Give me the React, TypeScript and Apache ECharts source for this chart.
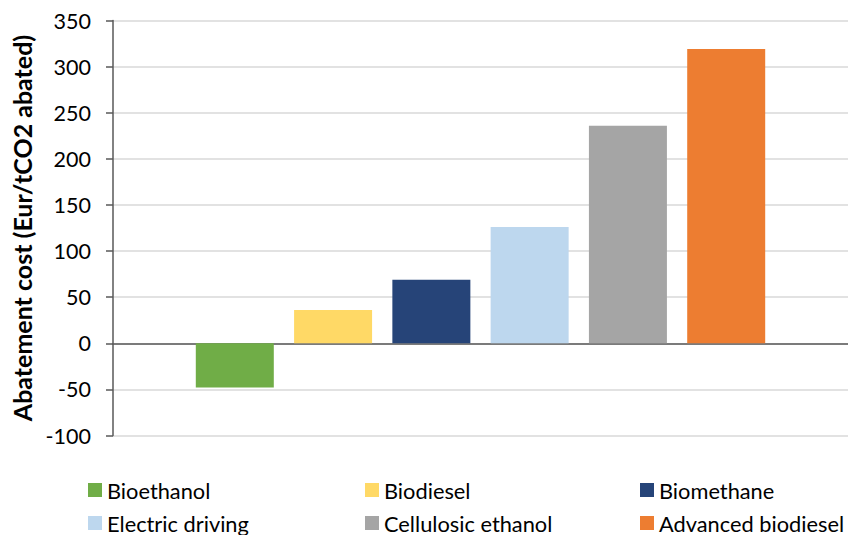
import React, { useEffect, useRef } from "react";
import * as echarts from "echarts";

// Abatement cost per technology, Eur per tonne of CO2 abated
const technologies = [
  "Bioethanol",
  "Biodiesel",
  "Biomethane",
  "Electric driving",
  "Cellulosic ethanol",
  "Advanced biodiesel",
];
const abatementCost = [-48, 36, 69, 126, 236, 319];
const barColors = ["#70ad47", "#ffd966", "#264478", "#bdd7ee", "#a5a5a5", "#ed7d31"];
const yTicks = { min: -100, max: 350, step: 50 };

// legend grid: three columns, two rows
const legendCols = [88, 365, 640];
const legendRows = [479, 512];

const FONT = "Lato, 'Open Sans', sans-serif";

export default function App() {
  const ref = useRef<HTMLDivElement>(null);

  useEffect(() => {
    if (!ref.current) return;
    const chart = echarts.init(ref.current, undefined, { renderer: "svg" });

    const series = technologies.map((name, i) => ({
      name,
      type: "bar" as const,
      data: [abatementCost[i]],
      barWidth: 78,
      barGap: "26%",
      itemStyle: { color: barColors[i] },
    }));

    const legends = technologies.map((name, i) => ({
      data: [name],
      left: legendCols[i % 3],
      top: legendRows[Math.floor(i / 3)],
      icon: "rect",
      itemWidth: 14,
      itemHeight: 14,
      itemGap: 0,
      padding: 0,
      itemStyle: { borderWidth: 0 },
      textStyle: { fontFamily: FONT, fontSize: 21.8, color: "#000" },
      selectedMode: false,
    }));

    chart.setOption({
      animation: false,
      textStyle: { fontFamily: FONT },
      grid: { left: 113, right: 0, top: 20.5, bottom: 99.5, containLabel: false },
      xAxis: {
        type: "category",
        data: [""],
        axisLine: { show: true, onZero: true, lineStyle: { color: "#595959", width: 1.5 } },
        axisTick: { show: false },
        axisLabel: { show: false },
        splitLine: { show: false },
      },
      yAxis: {
        type: "value",
        min: yTicks.min,
        max: yTicks.max,
        interval: yTicks.step,
        name: "Abatement cost (Eur/tCO2 abated)",
        nameLocation: "middle",
        nameGap: 78,
        nameTextStyle: { fontFamily: FONT, fontSize: 25, fontWeight: "bold", color: "#000" },
        axisLine: { show: true, lineStyle: { color: "#595959", width: 1.5 } },
        axisTick: { show: true, length: 7, lineStyle: { color: "#595959", width: 1.5 } },
        axisLabel: { fontFamily: FONT, fontSize: 21.5, color: "#000", margin: 22 },
        splitLine: { show: true, lineStyle: { color: "#d9d9d9", width: 1.5 } },
      },
      legend: legends,
      series,
    });

    return () => chart.dispose();
  }, []);

  return (
    <div
      ref={ref}
      style={{ position: "fixed", left: 0, top: 0, width: 848, height: 535, background: "#fff" }}
    />
  );
}
